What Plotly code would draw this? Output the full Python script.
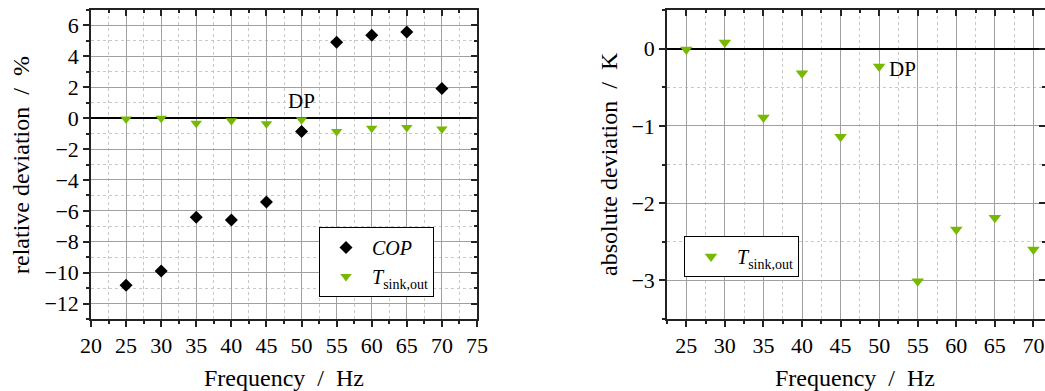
import plotly.graph_objects as go

freq = [25, 30, 35, 40, 45, 50, 55, 60, 65, 70]
cop_rel = [-10.82, -9.89, -6.41, -6.60, -5.42, -0.86, 4.92, 5.37, 5.57, 1.92]
tsink_rel = [-0.05, 0.0, -0.33, -0.17, -0.37, -0.1, -0.86, -0.65, -0.60, -0.71]
tsink_abs = [-0.01, 0.08, -0.89, -0.32, -1.14, -0.23, -3.01, -2.34, -2.19, -2.60]

x_ticks_left = [20, 25, 30, 35, 40, 45, 50, 55, 60, 65, 70, 75]
x_ticks_right = [25, 30, 35, 40, 45, 50, 55, 60, 65, 70]
y_ticks_left = [-12, -10, -8, -6, -4, -2, 0, 2, 4, 6]
y_ticks_right = [-3, -2, -1, 0]

GREEN = "#76b900"
FONT = "'Liberation Serif', 'Times New Roman', Times, serif"
W, H = 1045, 391
NB = "\u00a0"

fig = go.Figure()

fig.add_trace(go.Scatter(x=freq, y=cop_rel, mode="markers", name="<i>COP</i>",
                         marker=dict(symbol="diamond", size=10, color="black"),
                         xaxis="x", yaxis="y", legend="legend"))
fig.add_trace(go.Scatter(x=freq, y=tsink_rel, mode="markers", name="<i>T</i><sub>sink,out</sub>",
                         marker=dict(symbol="triangle-down", size=10, color=GREEN),
                         xaxis="x", yaxis="y", legend="legend"))
fig.add_trace(go.Scatter(x=freq, y=tsink_abs, mode="markers", name="<i>T</i><sub>sink,out</sub>",
                         marker=dict(symbol="triangle-down", size=11, color=GREEN),
                         xaxis="x2", yaxis="y2", legend="legend2"))

# dummy traces for mirrored inside-tick axes
fig.add_trace(go.Scatter(x=[], y=[], xaxis="x3", yaxis="y3", showlegend=False, hoverinfo="skip"))
fig.add_trace(go.Scatter(x=[], y=[], xaxis="x4", yaxis="y4", showlegend=False, hoverinfo="skip"))

dl = [91 / W, 477 / W]
dr = [667 / W, 1.0]
dy = [(H - 319) / H, (H - 10) / H]

grid_major = "#a0a0a0"
grid_minor = "#c8c8c8"
tickfont = dict(family=FONT, size=22, color="black")


def lbl(v):
    return ("\u2212" if v < 0 else "") + str(abs(v))


def xax(rng, domain, anchor, tickvals):
    return dict(range=rng, domain=domain, anchor=anchor, tickvals=tickvals, automargin=False,
                showgrid=True, gridcolor=grid_major, gridwidth=1,
                ticks="outside", ticklen=6, tickwidth=1.5, tickcolor="#222",
                showline=True, linecolor="#222", linewidth=1.5, mirror=True,
                tickfont=tickfont, zeroline=False,
                minor=dict(dtick=2.5, tick0=0, ticks="outside", ticklen=3, tickcolor="#222",
                           showgrid=True, gridcolor=grid_minor, griddash="dot", gridwidth=1))


def yax(rng, domain, anchor, tickvals, mdtick):
    return dict(range=rng, domain=domain, anchor=anchor, tickvals=tickvals,
                ticktext=[lbl(v) for v in tickvals], automargin=False,
                showgrid=True, gridcolor=grid_major, gridwidth=1,
                ticks="outside", ticklen=6, tickwidth=1.5, tickcolor="#222",
                showline=True, linecolor="#222", linewidth=1.5, mirror=True,
                tickfont=tickfont,
                zeroline=True, zerolinecolor="black", zerolinewidth=1.5,
                minor=dict(dtick=mdtick, tick0=0, ticks="outside", ticklen=3, tickcolor="#222",
                           showgrid=True, gridcolor=grid_minor, griddash="dot", gridwidth=1))


def mirror_x(rng, domain, anchor, overlay, tickvals):
    return dict(range=rng, domain=domain, anchor=anchor, side="top", overlaying=overlay,
                automargin=False, tickvals=tickvals, showticklabels=False, showgrid=False,
                ticks="inside", ticklen=6, tickwidth=1.5, tickcolor="#222", zeroline=False,
                minor=dict(dtick=2.5, tick0=0, ticks="inside", ticklen=3, tickcolor="#222"))


def mirror_y(rng, domain, anchor, overlay, tickvals, mdtick):
    return dict(range=rng, domain=domain, anchor=anchor, side="right", overlaying=overlay,
                automargin=False, tickvals=tickvals, showticklabels=False, showgrid=False,
                zeroline=False, ticks="inside", ticklen=6, tickwidth=1.5, tickcolor="#222",
                minor=dict(dtick=mdtick, tick0=0, ticks="inside", ticklen=3, tickcolor="#222"))


fig.update_layout(
    width=W, height=H,
    margin=dict(l=0, r=0, t=0, b=0),
    paper_bgcolor="white", plot_bgcolor="white",
    font=dict(family=FONT, color="black"),
    xaxis=xax([20, 75], dl, "y", x_ticks_left),
    yaxis=yax([-13, 7], dy, "x", y_ticks_left, 1),
    xaxis2=xax([22.5, 71.5], dr, "y2", x_ticks_right),
    yaxis2=yax([-3.5, 0.5], dy, "x2", y_ticks_right, 0.5),
    xaxis3=mirror_x([20, 75], dl, "y3", "x", x_ticks_left),
    yaxis3=mirror_y([-13, 7], dy, "x3", "y", y_ticks_left, 1),
    xaxis4=mirror_x([22.5, 71.5], dr, "y4", "x2", x_ticks_right),
    yaxis4=mirror_y([-3.5, 0.5], dy, "x4", "y2", y_ticks_right, 0.5),
    legend=dict(x=319 / W, y=(H - 227) / H, xanchor="left", yanchor="top",
                bgcolor="white", bordercolor="black", borderwidth=1,
                font=dict(family=FONT, size=20, color="black"), tracegroupgap=0,
                itemwidth=42),
    legend2=dict(x=684 / W, y=(H - 236) / H, xanchor="left", yanchor="top",
                 bgcolor="white", bordercolor="black", borderwidth=1,
                 font=dict(family=FONT, size=20, color="black"), itemwidth=42),
    showlegend=True,
)

ann_font = dict(family=FONT, size=21, color="black")
title_font = dict(family=FONT, size=24, color="black")
fig.add_annotation(x=50, y=1.1, xref="x", yref="y", text="DP", showarrow=False,
                   xanchor="center", yanchor="middle", font=ann_font)
fig.add_annotation(x=51.0, y=-0.27, xref="x2", yref="y2", text="DP", showarrow=False,
                   xanchor="left", yanchor="middle", font=ann_font)

xt = "Frequency" + NB * 2 + "/" + NB * 2 + "Hz"
fig.add_annotation(x=284 / W, y=(H - 378) / H, xref="paper", yref="paper",
                   text=xt, showarrow=False, xanchor="center", yanchor="middle",
                   font=title_font)
fig.add_annotation(x=855 / W, y=(H - 378) / H, xref="paper", yref="paper",
                   text=xt, showarrow=False, xanchor="center", yanchor="middle",
                   font=title_font)
fig.add_annotation(x=21 / W, y=(H - 165) / H, xref="paper", yref="paper",
                   text="relative deviation" + NB * 2 + "/" + NB * 2 + "%", showarrow=False,
                   textangle=-90, xanchor="center", yanchor="middle", font=title_font)
fig.add_annotation(x=609 / W, y=(H - 164) / H, xref="paper", yref="paper",
                   text="absolute deviation" + NB * 2 + "/" + NB * 2 + "K", showarrow=False,
                   textangle=-90, xanchor="center", yanchor="middle", font=title_font)

fig.write_html("out.html")
